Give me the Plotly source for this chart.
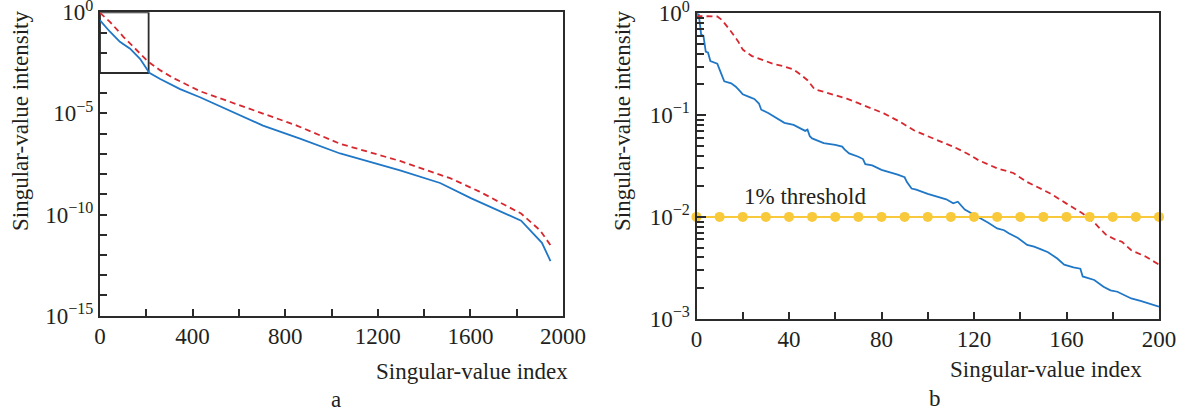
import plotly.graph_objects as go

# ---------------- data ----------------
# Panel a: full singular-value spectrum (index, value)
a_blue_idx = [0, 43, 86, 130, 173, 213, 260, 346, 432, 575, 704, 864, 1037, 1296, 1469, 1604, 1700, 1819, 1909, 1946]
a_blue_val = [10**-0.4, 10**-0.96, 10**-1.46, 10**-1.8, 10**-2.3, 10**-2.99, 10**-3.3, 10**-3.8, 10**-4.2,
              10**-4.95, 10**-5.6, 10**-6.25, 10**-6.98, 10**-7.81, 10**-8.44, 10**-9.2, 10**-9.7,
              10**-10.3, 10**-11.4, 10**-12.3]
a_red_idx = [0, 43, 101, 158, 209, 259, 317, 432, 605, 850, 1037, 1296, 1512, 1637, 1819, 1901, 1951]
a_red_val = [10**-0.03, 10**-0.47, 10**-1.21, 10**-1.87, 10**-2.45, 10**-2.86, 10**-3.25, 10**-3.9,
             10**-4.6, 10**-5.6, 10**-6.5, 10**-7.35, 10**-8.2, 10**-8.85, 10**-9.95, 10**-10.78, 10**-11.6]

# Panel b: first 200 singular values
b_blue_idx = [0, 1, 2, 3, 4, 5, 6, 8, 9, 10, 11, 12, 15, 17, 19, 20, 23, 25, 27, 28, 31, 35, 38, 42, 45,
              47, 48, 49, 50, 53, 55, 60, 63, 64, 66, 70, 72, 73, 76, 80, 84, 87, 90, 91, 93, 95, 100,
              105, 108, 111, 113, 116, 119, 122, 126, 130, 133, 135, 139, 143, 146, 149, 152, 156, 159,
              163, 166, 167, 170, 172, 176, 179, 182, 185, 188, 192, 196, 200]
b_blue_val = [1.0, 0.97, 0.62, 0.6, 0.42, 0.41, 0.34, 0.33, 0.32, 0.28, 0.25, 0.215, 0.205, 0.19, 0.17,
              0.16, 0.15, 0.144, 0.13, 0.113, 0.105, 0.092, 0.084, 0.08, 0.074, 0.07, 0.072, 0.062, 0.059,
              0.055, 0.053, 0.051, 0.049, 0.046, 0.042, 0.039, 0.037, 0.033, 0.032, 0.029, 0.0275, 0.026,
              0.0245, 0.022, 0.019, 0.0185, 0.0168, 0.0155, 0.0149, 0.0136, 0.0141, 0.0118, 0.0108, 0.0100,
              0.0088, 0.0077, 0.0074, 0.0069, 0.0062, 0.0053, 0.0051, 0.0048, 0.0045, 0.0039, 0.0034,
              0.0032, 0.0031, 0.0026, 0.0025, 0.0024, 0.00206, 0.0019, 0.00184, 0.0017, 0.00158, 0.0015,
              0.0014, 0.00131]
b_red_idx = [0, 5, 9, 11, 13, 15, 18, 20, 24, 28, 33, 38, 42, 45, 48, 51, 55, 60, 65, 70, 75, 81, 88,
             94, 100, 106, 111, 117, 122, 130, 137, 143, 147, 153, 160, 167, 172, 177, 181, 184, 188, 194, 200]
b_red_val = [0.94, 0.93, 0.93, 0.86, 0.76, 0.66, 0.53, 0.44, 0.38, 0.35, 0.32, 0.30, 0.28, 0.25, 0.22,
             0.18, 0.17, 0.158, 0.145, 0.131, 0.118, 0.104, 0.086, 0.071, 0.062, 0.055, 0.049, 0.042,
             0.036, 0.030, 0.027, 0.022, 0.0198, 0.017, 0.0135, 0.0108, 0.0088, 0.0067, 0.0060, 0.0057,
             0.0047, 0.0041, 0.0034]

threshold_value = 0.01
threshold_idx = list(range(0, 201, 10))
threshold_label = "1% threshold"
threshold_label_x = 47

zoom_box_x = [0, 210]
zoom_box_y = [1e-3, 1.0]

a_xticks = list(range(0, 2001, 200))
a_xlabels = [str(v) if v % 400 == 0 else "" for v in a_xticks]
a_yticks = [10.0 ** (-k) for k in range(0, 16)]
a_ylabels_map = {0: "10<sup>0</sup>", 5: "10<sup>−5</sup>", 10: "10<sup>−10</sup>", 15: "10<sup>−15</sup>"}
a_ylabels = [a_ylabels_map.get(k, "") for k in range(16)]
b_xticks = list(range(0, 201, 20))
b_xlabels = [str(v) if v % 40 == 0 else "" for v in b_xticks]
b_yticks = [1.0, 0.1, 0.01, 0.001]
b_ylabels = ["10<sup>0</sup>", "10<sup>−1</sup>", "10<sup>−2</sup>", "10<sup>−3</sup>"]
b_yminor = [m * 10.0 ** e for e in (-3, -2, -1) for m in range(2, 10)]

x_title = "Singular-value index"
y_title = "Singular-value intensity"

# ---------------- style ----------------
W, H = 1187, 411
FONT = "Liberation Serif, Times New Roman, serif"
TXT = "#231f20"
AX = "#2b2b2b"
BLUE = "#1f77c6"
RED = "#d7282f"
GOLD = "#f8c93a"

fig = go.Figure()

# zoom box in panel a (drawn as a closed path through the axes)
box_x = [zoom_box_x[0], zoom_box_x[1], zoom_box_x[1], zoom_box_x[0], zoom_box_x[0]]
box_y = [zoom_box_y[0], zoom_box_y[0], zoom_box_y[1], zoom_box_y[1], zoom_box_y[0]]
fig.add_trace(go.Scatter(x=box_x, y=box_y, mode="lines", line=dict(color=AX, width=1.8),
                         xaxis="x", yaxis="y", showlegend=False, hoverinfo="skip"))

fig.add_trace(go.Scatter(x=a_blue_idx, y=a_blue_val, mode="lines",
                         line=dict(color=BLUE, width=1.8), xaxis="x", yaxis="y", showlegend=False))
fig.add_trace(go.Scatter(x=a_red_idx, y=a_red_val, mode="lines",
                         line=dict(color=RED, width=1.8, dash="6px,4px"), xaxis="x", yaxis="y", showlegend=False))

fig.add_trace(go.Scatter(x=b_blue_idx, y=b_blue_val, mode="lines",
                         line=dict(color=BLUE, width=1.8), xaxis="x2", yaxis="y2", showlegend=False))
fig.add_trace(go.Scatter(x=b_red_idx, y=b_red_val, mode="lines",
                         line=dict(color=RED, width=1.8, dash="6px,4px"), xaxis="x2", yaxis="y2", showlegend=False))
fig.add_trace(go.Scatter(x=threshold_idx, y=[threshold_value] * len(threshold_idx), mode="lines+markers",
                         line=dict(color=GOLD, width=2), marker=dict(color=GOLD, size=10),
                         cliponaxis=False, xaxis="x2", yaxis="y2", showlegend=False))


def px(x):
    return x / W


def py(y):
    return 1 - y / H


tickfont = dict(family=FONT, size=23, color=TXT)
common = dict(showline=True, mirror=True, linecolor=AX, linewidth=2, ticks="inside",
              tickcolor=AX, tickwidth=1.5, showgrid=False, zeroline=False, tickfont=tickfont,
              tickmode="array", ticklabeloverflow="allow", automargin=False)

fig.update_layout(
    width=W, height=H, margin=dict(l=0, r=0, t=0, b=0, autoexpand=False),
    paper_bgcolor="white", plot_bgcolor="white",
    xaxis=dict(domain=[px(100), px(563)], range=[0, 2000], anchor="y",
               tickvals=a_xticks, ticktext=a_xlabels, ticklen=7, ticklabelstandoff=-1, **common),
    yaxis=dict(domain=[py(315.7), py(12.3)], type="log", range=[-15, 0], anchor="x",
               tickvals=a_yticks, ticktext=a_ylabels, ticklen=7, ticklabelstandoff=0, **common),
    xaxis2=dict(domain=[px(696.5), px(1159)], range=[0, 200], anchor="y2",
                tickvals=b_xticks, ticktext=b_xlabels, ticklen=7, ticklabelstandoff=-1, **common),
    yaxis2=dict(domain=[py(318.7), py(13.3)], type="log", range=[-3, 0], anchor="x2",
                tickvals=b_yticks, ticktext=b_ylabels, ticklen=9, ticklabelstandoff=0,
                minor=dict(tickvals=b_yminor, ticks="inside", ticklen=7, tickcolor=AX, tickwidth=1.5),
                **common),
)

ann_font = dict(family=FONT, size=23, color=TXT)
anns = [
    (21, 121, y_title, -90),
    (623, 121, y_title, -90),
    (472, 371, x_title, 0),
    (1046, 369, x_title, 0),
    (336, 399, "a", 0),
    (935, 398, "b", 0),
]
for x, y, t, ang in anns:
    fig.add_annotation(x=px(x), y=py(y), xref="paper", yref="paper", text=t, showarrow=False,
                       textangle=ang, xanchor="center", yanchor="middle", font=ann_font)

fig.add_annotation(x=threshold_label_x, y=-2, xref="x2", yref="y2", text=threshold_label,
                   showarrow=False, xanchor="center", yanchor="bottom", yshift=6, font=ann_font)

fig.write_html("out.html")
